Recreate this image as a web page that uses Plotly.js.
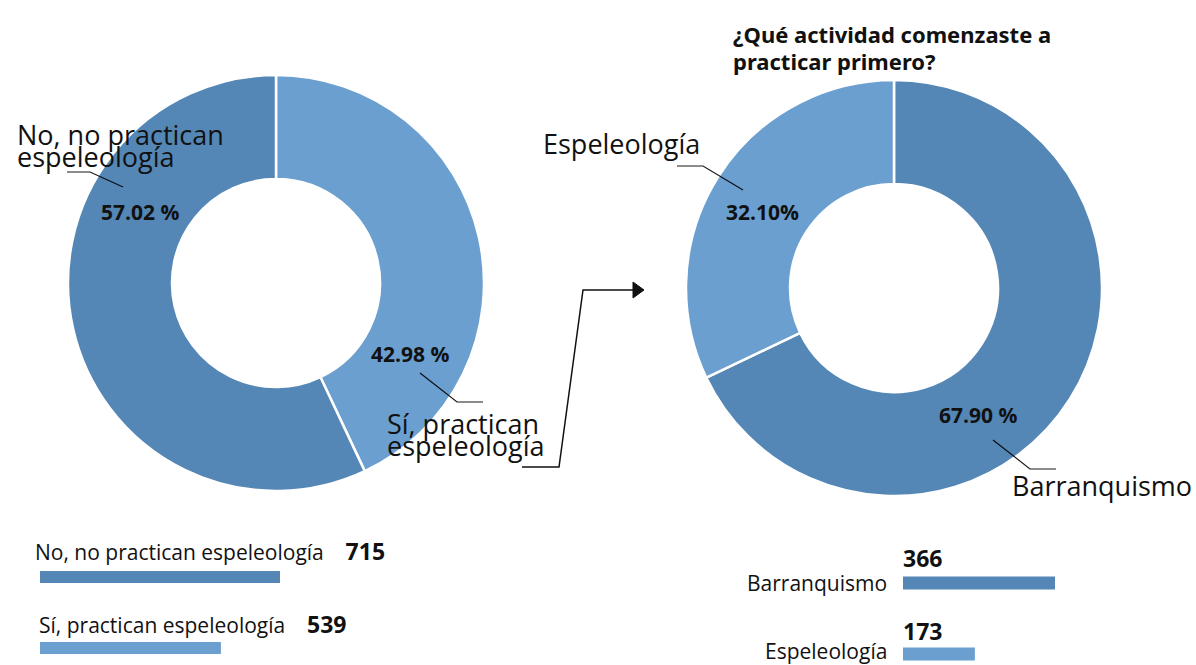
<!DOCTYPE html>
<html>
<head>
<meta charset="utf-8">
<script src="https://cdn.plot.ly/plotly-3.0.1.min.js"></script>
<style>html,body{margin:0;padding:0;background:#fff;}#chart{width:1196px;height:665px;}</style>
</head>
<body>
<div id="chart"></div>
<script>
// ---- data ----
const practicaLabels = ['No, no practican espeleología', 'Sí, practican espeleología'];
const practicaValues = [715, 539];
const primeroLabels = ['Barranquismo', 'Espeleología'];
const primeroValues = [366, 173];
const primeroPctSep = [' ', ''];
const chartTitleLines = ['¿Qué actividad comenzaste a', 'practicar primero?'];

// ---- styles ----
const DARK = '#5487b6';
const LIGHT = '#6a9fd0';
const W = 1196, H = 665;
const LFONT = '"Open Sans", Lato, sans-serif';
const px = x => x / W;
const py = y => 1 - y / H;
const pct = (v, arr, sep) => (v / arr.reduce((a, b) => a + b, 0) * 100).toFixed(2) + sep + '%';
const splitLast = s => { const i = s.lastIndexOf(' '); return [s.slice(0, i), s.slice(i + 1)]; };

const traces = [
  {
    // Sí first, clockwise from 12 o'clock, then No
    type: 'pie', values: practicaValues.slice().reverse(), labels: practicaLabels.slice().reverse(),
    hole: 0.5, sort: false, direction: 'clockwise', rotation: 0,
    marker: {colors: [LIGHT, DARK], line: {color: '#ffffff', width: 2.5}},
    textinfo: 'none', showlegend: false,
    domain: {x: [px(68), px(484)], y: [py(491), py(75)]}
  },
  {
    type: 'pie', values: primeroValues, labels: primeroLabels,
    hole: 0.5, sort: false, direction: 'clockwise', rotation: 0,
    marker: {colors: [DARK, LIGHT], line: {color: '#ffffff', width: 2.5}},
    textinfo: 'none', showlegend: false,
    domain: {x: [px(686), px(1102)], y: [py(496), py(80)]}
  },
  {
    type: 'bar', orientation: 'h', x: practicaValues, y: practicaLabels,
    xaxis: 'x', yaxis: 'y', width: 0.17,
    marker: {color: [DARK, LIGHT]}, showlegend: false, hoverinfo: 'x+y'
  },
  {
    type: 'bar', orientation: 'h', x: primeroValues, y: primeroLabels,
    xaxis: 'x2', yaxis: 'y2', width: 0.18,
    marker: {color: [DARK, LIGHT]}, showlegend: false, hoverinfo: 'x+y'
  }
];

const hiddenAxis = {showgrid: false, zeroline: false, showline: false, showticklabels: false, ticks: '', fixedrange: true};

const annotations = [];
const ann = (text, x, y, size, xanchor, bold, family) => annotations.push({
  text: bold ? '<b>' + text + '</b>' : text,
  xref: 'paper', yref: 'paper', x: px(x), y: py(y),
  xanchor: xanchor, yanchor: 'middle', showarrow: false,
  font: {family: family || LFONT, size: size, color: '#111111'}
});

// title (two lines, tight spacing)
ann(chartTitleLines[0], 731, 34, 22, 'left', true, '"Noto Sans", sans-serif');
ann(chartTitleLines[1], 731, 61, 22, 'left', true, '"Noto Sans", sans-serif');

// percentages on donuts
ann(pct(practicaValues[0], practicaValues, ' '), 99, 212, 21, 'left', true);
ann(pct(practicaValues[1], practicaValues, ' '), 369, 354, 21, 'left', true);
ann(pct(primeroValues[0], primeroValues, primeroPctSep[0]), 937, 415, 21, 'left', true);
ann(pct(primeroValues[1], primeroValues, primeroPctSep[1]), 724, 212, 21, 'left', true);

// big donut labels
const noL = splitLast(practicaLabels[0]);
ann(noL[0], 15, 135, 27, 'left', false);
ann(noL[1], 15, 156, 27, 'left', false);
const siL = splitLast(practicaLabels[1]);
ann(siL[0], 385, 423, 27, 'left', false);
ann(siL[1], 385, 445, 27, 'left', false);
ann(primeroLabels[1], 541, 143, 27, 'left', false);
ann(primeroLabels[0], 1010, 485, 27, 'left', false);

// bar labels
practicaLabels.forEach((l, i) => {
  annotations.push({
    text: l + '&nbsp;&nbsp;&nbsp;&nbsp;<b><span style="font-size:23px">' + practicaValues[i] + '</span></b>',
    xref: 'paper', yref: 'paper', x: px(i === 0 ? 33 : 37), y: py(i === 0 ? 551 : 624),
    xanchor: 'left', yanchor: 'middle', showarrow: false,
    font: {family: LFONT, size: 21, color: '#111111'}
  });
});
primeroLabels.forEach((l, i) => {
  ann(String(primeroValues[i]), 901, i === 0 ? 558 : 631, 23, 'left', true);
  ann(l, 889, i === 0 ? 583 : 651, 21, 'right', false);
});

const line = 'rgba(0,0,0,0.9)';
const pathP = pts => 'M ' + pts.map(p => px(p[0]) + ' ' + py(p[1])).join(' L ');
const shapes = [
  {type: 'path', xref: 'paper', yref: 'paper', path: pathP([[67,172],[90,172],[123,187]]), line: {color: line, width: 1.2}},
  {type: 'path', xref: 'paper', yref: 'paper', path: pathP([[420,373],[457,402],[483,402]]), line: {color: line, width: 1.2}},
  {type: 'path', xref: 'paper', yref: 'paper', path: pathP([[677,166],[703,166],[743,190]]), line: {color: line, width: 1.2}},
  {type: 'path', xref: 'paper', yref: 'paper', path: pathP([[993,440],[1030,469],[1056,469]]), line: {color: line, width: 1.2}},
  {type: 'path', xref: 'paper', yref: 'paper', path: pathP([[522,467],[559,467],[583,290],[634,290]]), line: {color: '#111', width: 1.5}},
  {type: 'path', xref: 'paper', yref: 'paper', path: pathP([[633,282],[644,290],[633,298]]) + ' Z', line: {color: '#111', width: 1}, fillcolor: '#111'}
];

const layout = {
  width: W, height: H,
  margin: {l: 0, r: 0, t: 0, b: 0},
  paper_bgcolor: '#ffffff', plot_bgcolor: 'rgba(0,0,0,0)',
  showlegend: false,
  xaxis: Object.assign({}, hiddenAxis, {domain: [px(40), px(280)], range: [0, 715], anchor: 'y'}),
  yaxis: Object.assign({}, hiddenAxis, {domain: [0, py(540)], range: [1 + 17/71, -37/71], type: 'category', anchor: 'x'}),
  xaxis2: Object.assign({}, hiddenAxis, {domain: [px(903), px(1055)], range: [0, 366], anchor: 'y2'}),
  yaxis2: Object.assign({}, hiddenAxis, {domain: [0, py(540)], range: [1 + 11/71, -43/71], type: 'category', anchor: 'x2'}),
  annotations: annotations,
  shapes: shapes
};

Plotly.newPlot('chart', traces, layout, {displayModeBar: false, staticPlot: true});
</script>
</body>
</html>
